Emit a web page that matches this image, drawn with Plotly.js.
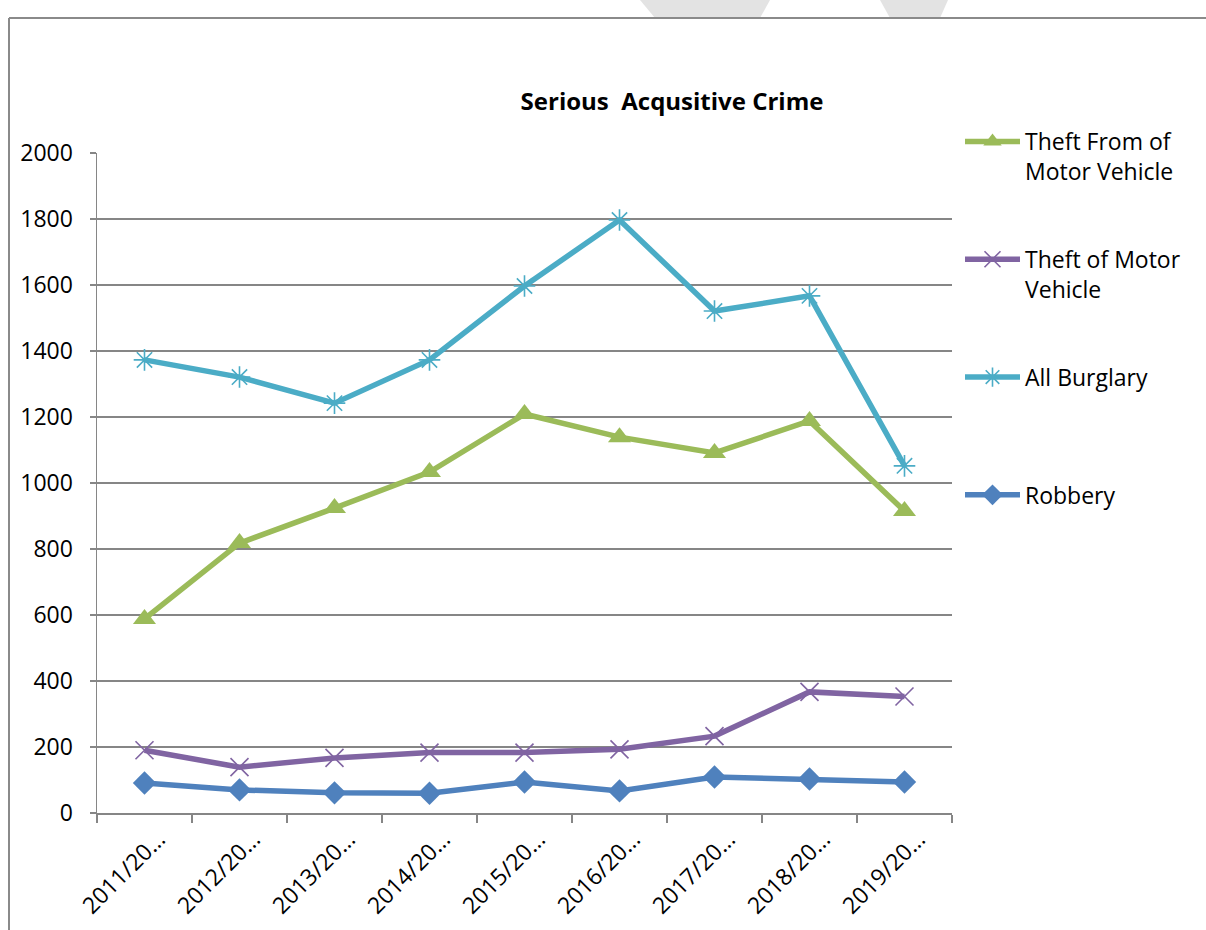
<!DOCTYPE html>
<html>
<head>
<meta charset="utf-8">
<script src="https://cdn.plot.ly/plotly-3.0.1.min.js"></script>
<style>html,body{margin:0;padding:0;background:#fff;}#chart{width:1206px;height:930px;}</style>
</head>
<body>
<div id="chart"></div>
<script>
const years = ["2011/2012","2012/2013","2013/2014","2014/2015","2015/2016","2016/2017","2017/2018","2018/2019","2019/2020"];
const yearLabels = ["2011/20…","2012/20…","2013/20…","2014/20…","2015/20…","2016/20…","2017/20…","2018/20…","2019/20…"];
const theftFromMV = [588, 818, 924, 1033, 1209, 1139, 1091, 1188, 915];
const theftOfMV = [190, 139, 167, 183, 183, 193, 233, 367, 353];
const allBurglary = [1373, 1321, 1242, 1373, 1597, 1797, 1521, 1567, 1052];
const robbery = [91, 70, 61, 60, 94, 67, 109, 103, 94];
const seriesNames = ["Theft From of<br>Motor Vehicle", "Theft of Motor<br>Vehicle", "All Burglary<br> ", "Robbery<br> "];

const FONT = "Open Sans, Noto Sans, sans-serif";
const traces = [
  {x: years, y: theftFromMV, name: seriesNames[0], legendgroup: "a", mode: "lines+markers",
   line: {color: "#9BBB59", width: 5.5}, marker: {symbol: "triangle-up", size: 20, color: "#9BBB59"}},
  {x: years, y: theftOfMV, name: seriesNames[1], legendgroup: "b", mode: "lines+markers",
   line: {color: "#8064A2", width: 5.5}, marker: {symbol: "x-thin-open", size: 18, line: {color: "#8064A2", width: 1.6}}},
  {x: years, y: allBurglary, name: seriesNames[2], legendgroup: "c", mode: "lines+markers",
   line: {color: "#4BACC6", width: 5.5}, marker: {symbol: "asterisk-open", size: 18, line: {color: "#4BACC6", width: 1.6}}},
  {x: years, y: robbery, name: seriesNames[3], legendgroup: "d", mode: "lines+markers",
   line: {color: "#4F81BD", width: 5.5}, marker: {symbol: "diamond", size: 18, color: "#4F81BD"}}
];

const L = 97, R = 952, T = 153, B = 813;
const px = v => (v - L) / (R - L);
const py = v => (B - v) / (B - T);

const layout = {
  width: 1206, height: 930,
  paper_bgcolor: "#ffffff", plot_bgcolor: "#ffffff",
  margin: {l: L, r: 1206 - R, t: T, b: 930 - B, autoexpand: false},
  font: {family: FONT, color: "#000000", size: 23},
  title: {text: "<b>Serious  Acqusitive Crime</b>", x: 672/1206, xanchor: "center", xref: "container",
          y: 1 - 102/930, yref: "container", yanchor: "middle",
          font: {family: FONT, size: 24, color: "#000"}},
  showlegend: true,
  legend: {x: px(960), xanchor: "left", y: py(120), yanchor: "top", traceorder: "grouped",
           tracegroupgap: 55, valign: "top", itemwidth: 55, font: {family: FONT, size: 23, color: "#000"},
           bgcolor: "rgba(0,0,0,0)"},
  xaxis: {type: "category", tickvals: years, ticktext: yearLabels, tickangle: -45,
          tickson: "boundaries", ticks: "outside", ticklen: 8, tickcolor: "#868686", tickwidth: 1.5,
          showline: true, linecolor: "#868686", linewidth: 1.5, showgrid: false, zeroline: false,
          ticklabelshift: 14, ticklabelstandoff: 2,
          tickfont: {family: FONT, size: 23, color: "#000"}, range: [-0.5, 8.5]},
  yaxis: {range: [0, 2000], dtick: 200, ticks: "outside", ticklen: 6, tickcolor: "#868686", tickwidth: 1.5,
          showline: true, linecolor: "#868686", linewidth: 1.5, showgrid: true, gridcolor: "#868686",
          gridwidth: 1.5, zeroline: false, ticklabelstandoff: 12,
          tickfont: {family: FONT, size: 23, color: "#000"}},
  shapes: [
    {type: "line", xref: "paper", yref: "paper", x0: px(9), x1: px(1206), y0: py(18), y1: py(18),
     line: {color: "#8a8a8a", width: 2}},
    {type: "line", xref: "paper", yref: "paper", x0: px(9), x1: px(9), y0: py(18), y1: py(930),
     line: {color: "#8a8a8a", width: 2}},
    {type: "path", xref: "paper", yref: "paper", layer: "below",
     path: `M${px(640)},${py(0)} L${px(770)},${py(0)} L${px(760)},${py(18)} L${px(655)},${py(18)} Z`,
     fillcolor: "#e3e3e3", line: {width: 0}},
    {type: "path", xref: "paper", yref: "paper", layer: "below",
     path: `M${px(880)},${py(0)} L${px(948)},${py(0)} L${px(940)},${py(18)} L${px(890)},${py(18)} Z`,
     fillcolor: "#e3e3e3", line: {width: 0}}
  ]
};

Plotly.newPlot("chart", traces, layout, {displayModeBar: false, staticPlot: true});
</script>
</body>
</html>
